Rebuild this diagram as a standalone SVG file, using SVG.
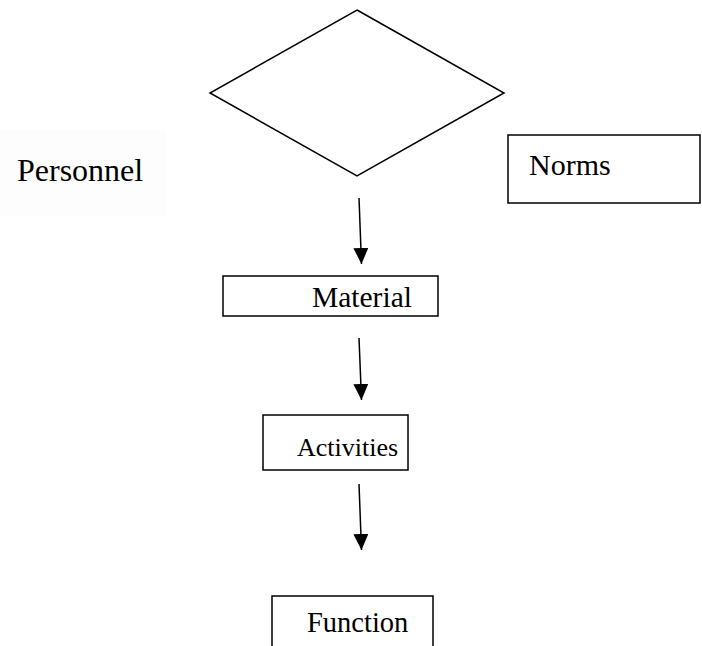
<svg xmlns="http://www.w3.org/2000/svg" width="702" height="646" viewBox="0 0 702 646">
<style>
.box{fill:#fff;stroke:#000;stroke-width:1.5}
.lbl{font-family:"Liberation Serif","Times New Roman",serif;font-size:29.5px;fill:#000}
.con{stroke:#000;stroke-width:1.5;fill:none}
</style>
<defs>
<marker id="ah" viewBox="0 0 10 10" refX="10" refY="5" markerWidth="16" markerHeight="15" markerUnits="userSpaceOnUse" orient="auto" preserveAspectRatio="none">
<path d="M0,0 L10,5 L0,10 Z" fill="#000"/>
</marker>
</defs>
<rect width="702" height="646" fill="#fff"/>
<g id="decision">
<polygon class="box" points="357,10 504,93 357,176 210,93"/>
</g>
<g id="personnel">
<rect x="0" y="130" width="166" height="86" fill="#fdfdfd"/>
<text class="lbl" x="17" y="181" style="font-size:32px">Personnel</text>
</g>
<g id="norms">
<rect class="box" x="508" y="135" width="192" height="68"/>
<text class="lbl" x="529" y="175" style="font-size:30px">Norms</text>
</g>
<g id="material">
<rect class="box" x="223" y="276" width="215" height="40"/>
<text class="lbl" x="312" y="307">Material</text>
</g>
<g id="activities">
<rect class="box" x="263" y="415" width="145" height="55"/>
<text class="lbl" x="297" y="456" style="font-size:26px">Activities</text>
</g>
<g id="function">
<rect class="box" x="272" y="596" width="161" height="60"/>
<text class="lbl" x="307" y="632" style="font-size:28.5px">Function</text>
</g>
<g id="connectors">
<line class="con" x1="359" y1="198" x2="361.5" y2="264" marker-end="url(#ah)"/>
<line class="con" x1="359" y1="338" x2="361.5" y2="400" marker-end="url(#ah)"/>
<line class="con" x1="359" y1="484" x2="361.5" y2="550" marker-end="url(#ah)"/>
</g>
</svg>
